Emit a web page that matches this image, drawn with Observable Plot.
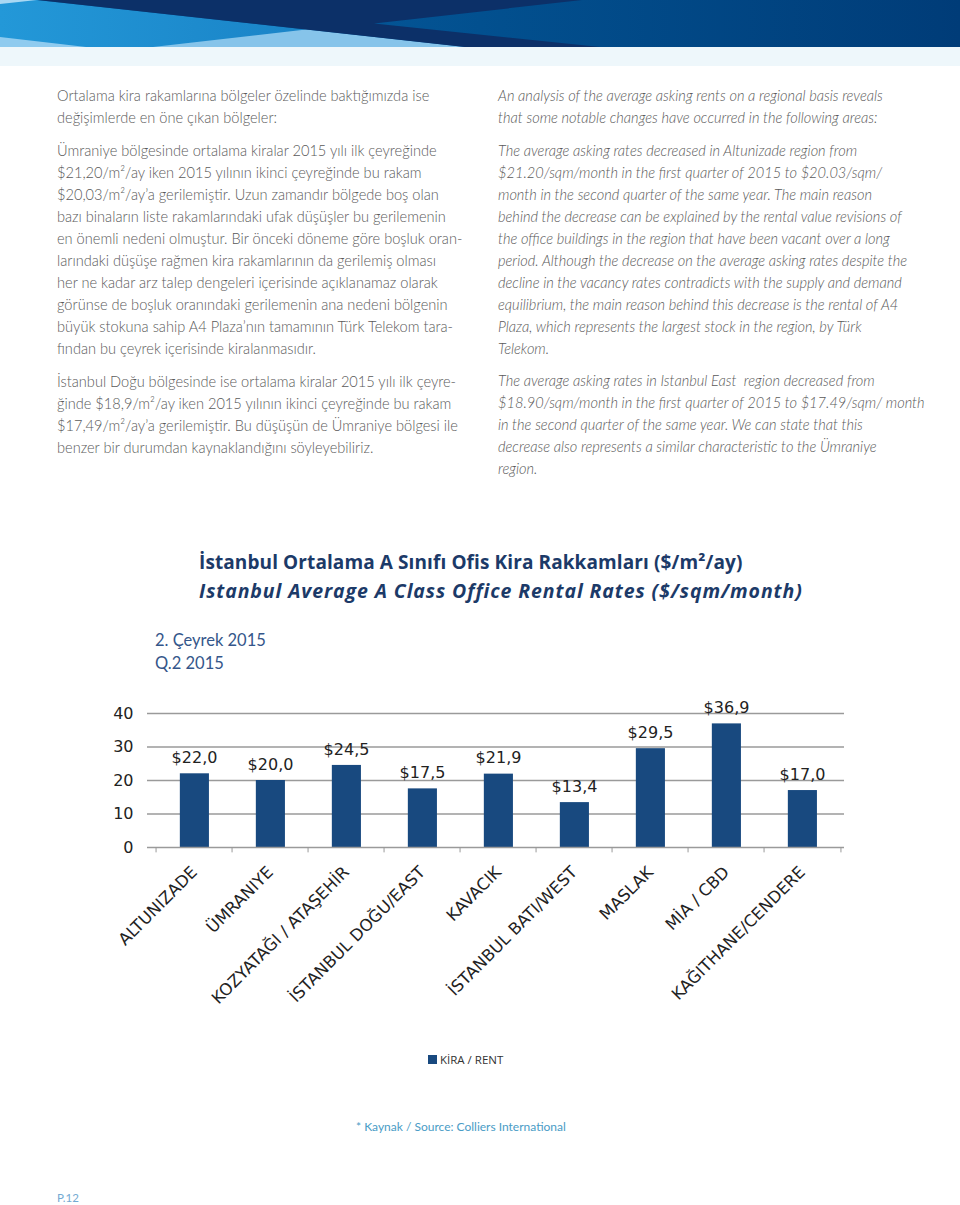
<!DOCTYPE html>
<html>
<head>
<meta charset="utf-8">
<script src="https://cdn.jsdelivr.net/npm/d3@7"></script>
<script src="https://cdn.jsdelivr.net/npm/@observablehq/plot@0.6"></script>
<style>
  html, body { margin: 0; padding: 0; background: #fff; }
  #page { position: relative; width: 960px; height: 1205px; overflow: hidden; background: #fff; }
  .abs { position: absolute; white-space: nowrap; }
  .tr { font-family: Lato, "Open Sans", sans-serif; font-weight: 300; font-size: 14.6px; line-height: 22px; color: #5a5a5a; }
  .en { font-family: Lato, "Open Sans", sans-serif; font-weight: 300; font-style: italic; font-size: 14.6px; line-height: 22px; color: #5a5a5a; }
  .title1 { font-family: "Open Sans", sans-serif; font-weight: 700; font-size: 19px; letter-spacing: 0.1px; color: #1c3a68; line-height: 24px; }
  .title2 { font-family: "Open Sans", sans-serif; font-weight: 700; font-style: italic; font-size: 19.5px; letter-spacing: 0.9px; color: #1c3a68; line-height: 24px; }
  .sub { font-family: Lato, sans-serif; font-weight: 400; font-size: 16.5px; color: #34568a; line-height: 23px; }
</style>
</head>
<body>
<div id="page">
  <svg class="abs" style="left:0;top:0" width="960" height="66" viewBox="0 0 960 66">
    <defs>
      <linearGradient id="gl" x1="0" x2="1" y1="0" y2="0">
        <stop offset="0" stop-color="#2398d8"/><stop offset="1" stop-color="#1579be"/>
      </linearGradient>
      <linearGradient id="gr" x1="0" x2="1" y1="0" y2="0">
        <stop offset="0" stop-color="#0a64aa"/><stop offset="0.5" stop-color="#02508f"/><stop offset="1" stop-color="#003c78"/>
      </linearGradient>
    </defs>
    <rect x="0" y="47" width="960" height="19" fill="#eef7fb"/>
    <rect x="0" y="0" width="960" height="47" fill="url(#gr)"/>
    <polygon points="0,0 37,0 465,47 0,47" fill="url(#gl)"/>
    <polygon points="0,0 37,0 0,4" fill="#a9d8f3"/>
    <polygon points="0,37 0,47 86,47" fill="#8fcbef"/>
    <polygon points="153,47 306,29.5 465,47" fill="#86c4ea"/>
    <polygon points="37,0 582,0 374,23.5 600,47 465,47" fill="#0c3068"/>
  </svg>

  <div class="abs tr" style="left:57px;top:85px">Ortalama kira rakamlarına bölgeler özelinde baktığımızda ise<br>değişimlerde en öne çıkan bölgeler:</div>
  <div class="abs tr" style="left:57px;top:140px">Ümraniye bölgesinde ortalama kiralar 2015 yılı ilk çeyreğinde<br>$21,20/m²/ay iken 2015 yılının ikinci çeyreğinde bu rakam<br>$20,03/m²/ay’a gerilemiştir. Uzun zamandır bölgede boş olan<br>bazı binaların liste rakamlarındaki ufak düşüşler bu gerilemenin<br>en önemli nedeni olmuştur. Bir önceki döneme göre boşluk oran-<br>larındaki düşüşe rağmen kira rakamlarının da gerilemiş olması<br>her ne kadar arz talep dengeleri içerisinde açıklanamaz olarak<br>görünse de boşluk oranındaki gerilemenin ana nedeni bölgenin<br>büyük stokuna sahip A4 Plaza’nın tamamının Türk Telekom tara-<br>fından bu çeyrek içerisinde kiralanmasıdır.</div>
  <div class="abs tr" style="left:57px;top:371px">İstanbul Doğu bölgesinde ise ortalama kiralar 2015 yılı ilk çeyre-<br>ğinde $18,9/m²/ay iken 2015 yılının ikinci çeyreğinde bu rakam<br>$17,49/m²/ay’a gerilemiştir. Bu düşüşün de Ümraniye bölgesi ile<br>benzer bir durumdan kaynaklandığını söyleyebiliriz.</div>

  <div class="abs en" style="left:498px;top:85px">An analysis of the average asking rents on a regional basis reveals<br>that some notable changes have occurred in the following areas:</div>
  <div class="abs en" style="left:498px;top:140px">The average asking rates decreased in Altunizade region from<br>$21.20/sqm/month in the first quarter of 2015 to $20.03/sqm/<br>month in the second quarter of the same year. The main reason<br>behind the decrease can be explained by the rental value revisions of<br>the office buildings in the region that have been vacant over a long<br>period. Although the decrease on the average asking rates despite the<br>decline in the vacancy rates contradicts with the supply and demand<br>equilibrium, the main reason behind this decrease is the rental of A4<br>Plaza, which represents the largest stock in the region, by Türk<br>Telekom.</div>
  <div class="abs en" style="left:498px;top:370px">The average asking rates in Istanbul East&nbsp; region decreased from<br>$18.90/sqm/month in the first quarter of 2015 to $17.49/sqm/ month<br>in the second quarter of the same year. We can state that this<br>decrease also represents a similar characteristic to the Ümraniye<br>region.</div>

  <div class="abs title1" style="left:199px;top:550px">İstanbul Ortalama A Sınıfı Ofis Kira Rakkamları ($/m²/ay)</div>
  <div class="abs title2" style="left:199px;top:579px">Istanbul Average A Class Office Rental Rates ($/sqm/month)</div>
  <div class="abs sub" style="left:155px;top:629px">2. Çeyrek 2015<br>Q.2 2015</div>

  <div id="chart" class="abs" style="left:0;top:690px"></div>

  <div class="abs" style="left:428px;top:1055px;width:9px;height:9px;background:#18497f"></div>
  <div class="abs" style="left:440px;top:1052px;font-family:'Open Sans',sans-serif;font-size:11.5px;line-height:16px;color:#333">KİRA / RENT</div>
  <div class="abs" style="left:356px;top:1119px;font-family:Lato,sans-serif;font-weight:400;font-size:12px;line-height:16px;color:#4a9cc6">* Kaynak / Source: Colliers International</div>
  <div class="abs" style="left:57px;top:1191px;font-family:Lato,sans-serif;font-size:11.5px;line-height:14px;color:#74aad2">P.12</div>
</div>
<script>
const categories = ["ALTUNIZADE", "ÜMRANIYE", "KOZYATAĞI / ATAŞEHİR", "İSTANBUL DOĞU/EAST", "KAVACIK", "İSTANBUL BATI/WEST", "MASLAK", "MİA / CBD", "KAĞITHANE/CENDERE"];
const rents = [22.0, 20.0, 24.5, 17.5, 21.9, 13.4, 29.5, 36.9, 17.0];
const yTicks = [0, 10, 20, 30, 40];

const data = categories.map((c, i) => ({region: c, rent: rents[i]}));
const W = 960, ML = 152, MR = 116;
const step = (W - ML - MR) / categories.length;
const fmt = v => "$" + v.toFixed(1).replace(".", ",");

const chart = Plot.plot({
  width: W,
  height: 330,
  marginTop: 23,
  marginBottom: 173,
  marginLeft: ML,
  marginRight: MR,
  style: {fontFamily: "'DejaVu Sans', sans-serif", color: "#222", background: "transparent", overflow: "visible"},
  x: {domain: categories, padding: 0, label: null},
  y: {domain: [0, 40], label: null},
  marks: [
    Plot.ruleY(yTicks.slice(1), {stroke: "#9a9a9a", strokeWidth: 1.5, insetLeft: -5}),
    Plot.barY(data, {x: "region", y: "rent", fill: "#18497f", insetLeft: step * 0.31, insetRight: step * 0.30}),
    Plot.ruleY([0], {stroke: "#9a9a9a", strokeWidth: 1.5, insetLeft: -5}),
    Plot.ruleX(categories, {x: d => d, dx: -step / 2, y1: 0, y2: -1.6, stroke: "#9a9a9a", strokeWidth: 1}),
    Plot.ruleX([categories[categories.length - 1]], {x: d => d, dx: step / 2, y1: 0, y2: -1.6, stroke: "#9a9a9a", strokeWidth: 1}),
    Plot.text(data, {x: "region", y: "rent", text: d => fmt(d.rent), dy: -16, fontSize: 16, fill: "#222"}),
    Plot.axisY({ticks: yTicks, tickSize: 0, tickPadding: 19, fontSize: 16, fill: "#222", label: null}),
    Plot.axisX({tickSize: 0, tickRotate: -45, tickPadding: 22, fontSize: 16.5, fill: "#222", label: null})
  ]
});
document.getElementById("chart").appendChild(chart);
</script>
</body>
</html>
